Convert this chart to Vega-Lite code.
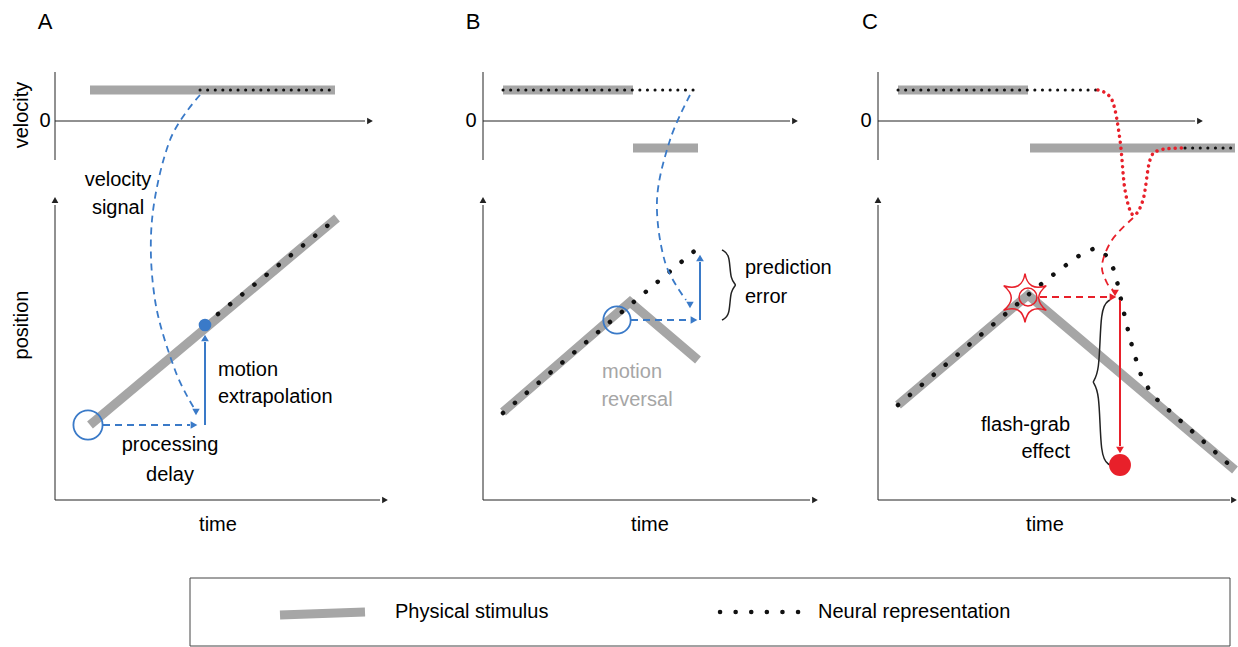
{
  "$schema": "https://vega.github.io/schema/vega-lite/v6.json",
  "width": 1238,
  "height": 647,
  "autosize": {"type": "none"},
  "padding": 0,
  "background": "white",
  "config": {"view": {"stroke": null}, "text": {"font": "Liberation Sans", "fontSize": 20}},
  "encoding": {
    "x": {"field": "x", "type": "quantitative", "scale": {"domain": [0, 1238], "nice": false, "zero": false}, "axis": null},
    "y": {"field": "y", "type": "quantitative", "scale": {"domain": [0, 647], "nice": false, "zero": false, "reverse": true}, "axis": null}
  },
  "layer": [
    {
      "data": {"values": [
        {"g": "legbox", "x": 190, "y": 578, "x2": 1230, "y2": 646}
      ]},
      "mark": {"type": "rect", "fill": null, "stroke": "#444", "strokeWidth": 1},
      "encoding": {"x2": {"field": "x2"}, "y2": {"field": "y2"}}
    },
    {
      "data": {"values": [
        {"g": "A1", "x": 90, "y": 90}, {"g": "A1", "x": 335, "y": 90},
        {"g": "B1", "x": 503, "y": 90}, {"g": "B1", "x": 633, "y": 90},
        {"g": "B2", "x": 633, "y": 148}, {"g": "B2", "x": 698, "y": 148},
        {"g": "C1", "x": 898, "y": 90}, {"g": "C1", "x": 1028, "y": 90},
        {"g": "C2", "x": 1030, "y": 148}, {"g": "C2", "x": 1235, "y": 148},
        {"g": "Ap", "x": 90, "y": 425}, {"g": "Ap", "x": 337, "y": 218},
        {"g": "Bp", "x": 503, "y": 412}, {"g": "Bp", "x": 630, "y": 302}, {"g": "Bp", "x": 698, "y": 360},
        {"g": "Cp", "x": 898, "y": 405}, {"g": "Cp", "x": 1028, "y": 295}, {"g": "Cp", "x": 1235, "y": 470},
        {"g": "L", "x": 280, "y": 615}, {"g": "L", "x": 365, "y": 612}
      ]},
      "mark": {"type": "line", "color": "#a6a6a6", "strokeWidth": 9, "strokeCap": "butt"},
      "encoding": {"detail": {"field": "g"}, "order": {"value": null}}
    },
    {
      "data": {"values": [
        {"g": "a", "x": 55, "y": 72}, {"g": "a", "x": 55, "y": 160},
        {"g": "b", "x": 55, "y": 121}, {"g": "b", "x": 365, "y": 121},
        {"g": "c", "x": 55, "y": 205}, {"g": "c", "x": 55, "y": 500}, {"g": "c", "x": 380, "y": 500},
        {"g": "d", "x": 483, "y": 72}, {"g": "d", "x": 483, "y": 160},
        {"g": "e", "x": 483, "y": 121}, {"g": "e", "x": 790, "y": 121},
        {"g": "f", "x": 483, "y": 205}, {"g": "f", "x": 483, "y": 500}, {"g": "f", "x": 810, "y": 500},
        {"g": "h", "x": 878, "y": 72}, {"g": "h", "x": 878, "y": 160},
        {"g": "i", "x": 878, "y": 121}, {"g": "i", "x": 1195, "y": 121},
        {"g": "j", "x": 878, "y": 205}, {"g": "j", "x": 878, "y": 500}, {"g": "j", "x": 1230, "y": 500}
      ]},
      "mark": {"type": "line", "color": "#222", "strokeWidth": 1},
      "encoding": {"detail": {"field": "g"}, "order": {"value": null}}
    },
    {
      "data": {"values": [
        {"g": "a", "x": 200, "y": 90}, {"g": "a", "x": 335, "y": 90},
        {"g": "b", "x": 503, "y": 90}, {"g": "b", "x": 698, "y": 90},
        {"g": "c", "x": 898, "y": 90}, {"g": "c", "x": 1098, "y": 90},
        {"g": "d", "x": 1185, "y": 148}, {"g": "d", "x": 1235, "y": 148}
      ]},
      "mark": {"type": "line", "color": "#111", "strokeWidth": 3, "strokeCap": "round", "strokeDash": [0.1, 7.5]},
      "encoding": {"detail": {"field": "g"}, "order": {"value": null}}
    },
    {
      "data": {"values": [
        {"g": "a", "x": 218, "y": 314}, {"g": "a", "x": 337, "y": 218},
        {"g": "b", "x": 503, "y": 413}, {"g": "b", "x": 617, "y": 316}, {"g": "b", "x": 698, "y": 248},
        {"g": "c", "x": 898, "y": 405}, {"g": "c", "x": 1028, "y": 295}, {"g": "c", "x": 1045, "y": 281},
        {"g": "c", "x": 1062, "y": 268}, {"g": "c", "x": 1080, "y": 255}, {"g": "c", "x": 1095, "y": 248},
        {"g": "c", "x": 1107, "y": 256}, {"g": "c", "x": 1115, "y": 272}, {"g": "c", "x": 1120, "y": 295},
        {"g": "c", "x": 1126, "y": 322}, {"g": "c", "x": 1133, "y": 350}, {"g": "c", "x": 1141, "y": 375},
        {"g": "c", "x": 1152, "y": 395}, {"g": "c", "x": 1235, "y": 470},
        {"g": "L", "x": 720, "y": 612}, {"g": "L", "x": 800, "y": 612}
      ]},
      "mark": {"type": "line", "color": "#111", "strokeWidth": 4.5, "strokeCap": "round", "strokeDash": [0.1, 15.5]},
      "encoding": {"detail": {"field": "g"}, "order": {"value": null}}
    },
    {
      "data": {"values": [
        {"x": 1098, "y": 90}, {"x": 1112, "y": 100}, {"x": 1120, "y": 140}, {"x": 1125, "y": 190},
        {"x": 1133, "y": 215}, {"x": 1143, "y": 200}, {"x": 1150, "y": 160}, {"x": 1160, "y": 150}, {"x": 1185, "y": 148}
      ]},
      "mark": {"type": "line", "color": "#e8202a", "strokeWidth": 3.5, "strokeCap": "round", "strokeDash": [0.1, 6], "interpolate": "cardinal"},
      "encoding": {"order": {"value": null}}
    },
    {
      "data": {"values": [
        {"g": "a", "x": 200, "y": 95}, {"g": "a", "x": 170, "y": 140}, {"g": "a", "x": 152, "y": 220},
        {"g": "a", "x": 155, "y": 300}, {"g": "a", "x": 175, "y": 370}, {"g": "a", "x": 194, "y": 408},
        {"g": "b", "x": 103, "y": 425}, {"g": "b", "x": 190, "y": 425},
        {"g": "c", "x": 690, "y": 95}, {"g": "c", "x": 670, "y": 140}, {"g": "c", "x": 657, "y": 200},
        {"g": "c", "x": 665, "y": 262}, {"g": "c", "x": 686, "y": 300},
        {"g": "d", "x": 631, "y": 320}, {"g": "d", "x": 688, "y": 320}
      ]},
      "mark": {"type": "line", "color": "#3a7ac8", "strokeWidth": 1.8, "strokeDash": [7, 5], "interpolate": "cardinal"},
      "encoding": {"detail": {"field": "g"}, "order": {"value": null}}
    },
    {
      "data": {"values": [
        {"g": "a", "x": 1040, "y": 297}, {"g": "a", "x": 1108, "y": 297},
        {"g": "b", "x": 1133, "y": 218}, {"g": "b", "x": 1112, "y": 240}, {"g": "b", "x": 1102, "y": 265},
        {"g": "b", "x": 1107, "y": 283}, {"g": "b", "x": 1113, "y": 290}
      ]},
      "mark": {"type": "line", "color": "#e8202a", "strokeWidth": 1.8, "strokeDash": [7, 5], "interpolate": "cardinal"},
      "encoding": {"detail": {"field": "g"}, "order": {"value": null}}
    },
    {
      "data": {"values": [
        {"g": "a", "x": 205, "y": 425}, {"g": "a", "x": 205, "y": 342},
        {"g": "b", "x": 700, "y": 320}, {"g": "b", "x": 700, "y": 262}
      ]},
      "mark": {"type": "line", "color": "#3a7ac8", "strokeWidth": 2},
      "encoding": {"detail": {"field": "g"}, "order": {"value": null}}
    },
    {
      "data": {"values": [
        {"g": "a", "x": 1120, "y": 300}, {"g": "a", "x": 1120, "y": 446}
      ]},
      "mark": {"type": "line", "color": "#e8202a", "strokeWidth": 2},
      "encoding": {"detail": {"field": "g"}, "order": {"value": null}}
    },
    {
      "data": {"values": [
        {"g": "B", "x": 722, "y": 250}, {"g": "B", "x": 730, "y": 254}, {"g": "B", "x": 730, "y": 281},
        {"g": "B", "x": 738, "y": 285}, {"g": "B", "x": 730, "y": 289}, {"g": "B", "x": 730, "y": 316}, {"g": "B", "x": 722, "y": 320},
        {"g": "C", "x": 1110, "y": 300}, {"g": "C", "x": 1100, "y": 306}, {"g": "C", "x": 1100, "y": 377},
        {"g": "C", "x": 1090, "y": 382}, {"g": "C", "x": 1100, "y": 387}, {"g": "C", "x": 1100, "y": 459}, {"g": "C", "x": 1110, "y": 465}
      ]},
      "mark": {"type": "line", "color": "#222", "strokeWidth": 1.5, "interpolate": "basis"},
      "encoding": {"detail": {"field": "g"}, "order": {"value": null}}
    },
    {
      "data": {"values": [{"x": 370, "y": 121}, {"x": 385, "y": 500}, {"x": 795, "y": 121}, {"x": 815, "y": 500}, {"x": 1200, "y": 121}, {"x": 1234, "y": 500}]},
      "mark": {"type": "point", "shape": "triangle-right", "filled": true, "color": "#222", "size": 45, "opacity": 1}
    },
    {
      "data": {"values": [{"x": 55, "y": 200}, {"x": 483, "y": 200}, {"x": 878, "y": 200}]},
      "mark": {"type": "point", "shape": "triangle-up", "filled": true, "color": "#222", "size": 45, "opacity": 1}
    },
    {
      "data": {"values": [{"x": 194, "y": 425}, {"x": 694, "y": 320}]},
      "mark": {"type": "point", "shape": "triangle-right", "filled": true, "color": "#3a7ac8", "size": 60, "opacity": 1}
    },
    {
      "data": {"values": [{"x": 205, "y": 338}, {"x": 700, "y": 258}]},
      "mark": {"type": "point", "shape": "triangle-up", "filled": true, "color": "#3a7ac8", "size": 60, "opacity": 1}
    },
    {
      "data": {"values": [{"x": 196, "y": 412}, {"x": 690, "y": 305}]},
      "mark": {"type": "point", "shape": "triangle-down", "filled": true, "color": "#3a7ac8", "size": 55, "opacity": 1}
    },
    {
      "data": {"values": [{"x": 1113, "y": 297}]},
      "mark": {"type": "point", "shape": "triangle-right", "filled": true, "color": "#e8202a", "size": 60, "opacity": 1}
    },
    {
      "data": {"values": [{"x": 1120, "y": 450}, {"x": 1115, "y": 293}]},
      "mark": {"type": "point", "shape": "triangle-down", "filled": true, "color": "#e8202a", "size": 60, "opacity": 1}
    },
    {
      "data": {"values": [{"x": 88, "y": 425, "s": 850}, {"x": 617, "y": 320, "s": 750}]},
      "mark": {"type": "point", "shape": "circle", "filled": false, "color": "#3a7ac8", "strokeWidth": 1.8, "opacity": 1},
      "encoding": {"size": {"field": "s", "type": "quantitative", "scale": null}}
    },
    {
      "data": {"values": [{"x": 205, "y": 325}]},
      "mark": {"type": "point", "shape": "circle", "filled": true, "color": "#3a7ac8", "size": 160, "opacity": 1}
    },
    {
      "data": {"values": [{"x": 1120, "y": 465}]},
      "mark": {"type": "point", "shape": "circle", "filled": true, "color": "#e8202a", "size": 480, "opacity": 1}
    },
    {
      "data": {"values": [{"x": 1028, "y": 297}]},
      "mark": {"type": "point", "shape": "circle", "filled": false, "color": "#e8202a", "strokeWidth": 1.5, "size": 320, "opacity": 1}
    },
    {
      "data": {"values": [{"x": 1025, "y": 298}]},
      "mark": {"type": "point", "filled": false, "color": "#e8202a", "strokeWidth": 1.5, "size": 2400, "opacity": 1,
        "shape": "M0,-1 Q0.12,-0.25 0.87,-0.5 Q0.25,0 0.87,0.5 Q0.12,0.25 0,1 Q-0.12,0.25 -0.87,0.5 Q-0.25,0 -0.87,-0.5 Q-0.12,-0.25 0,-1 Z"}
    },
    {
      "data": {"values": [
        {"x": 45, "y": 22, "t": "A"}, {"x": 473, "y": 22, "t": "B"}, {"x": 870, "y": 22, "t": "C"}
      ]},
      "mark": {"type": "text", "fontSize": 22, "baseline": "middle", "align": "center"},
      "encoding": {"text": {"field": "t"}}
    },
    {
      "data": {"values": [
        {"x": 45, "y": 121, "t": "0"}, {"x": 471, "y": 121, "t": "0"}, {"x": 866, "y": 121, "t": "0"},
        {"x": 118, "y": 180, "t": "velocity"}, {"x": 118, "y": 208, "t": "signal"},
        {"x": 170, "y": 445, "t": "processing"}, {"x": 170, "y": 475, "t": "delay"},
        {"x": 218, "y": 525, "t": "time"}, {"x": 650, "y": 525, "t": "time"}, {"x": 1045, "y": 525, "t": "time"}
      ]},
      "mark": {"type": "text", "baseline": "middle", "align": "center"},
      "encoding": {"text": {"field": "t"}}
    },
    {
      "data": {"values": [
        {"x": 632, "y": 372, "t": "motion"}, {"x": 637, "y": 400, "t": "reversal"}
      ]},
      "mark": {"type": "text", "baseline": "middle", "align": "center", "color": "#a6a6a6"},
      "encoding": {"text": {"field": "t"}}
    },
    {
      "data": {"values": [
        {"x": 218, "y": 370, "t": "motion"}, {"x": 218, "y": 397, "t": "extrapolation"},
        {"x": 745, "y": 268, "t": "prediction"}, {"x": 745, "y": 297, "t": "error"},
        {"x": 395, "y": 612, "t": "Physical stimulus"}, {"x": 818, "y": 612, "t": "Neural representation"}
      ]},
      "mark": {"type": "text", "baseline": "middle", "align": "left"},
      "encoding": {"text": {"field": "t"}}
    },
    {
      "data": {"values": [
        {"x": 1070, "y": 425, "t": "flash-grab"}, {"x": 1070, "y": 452, "t": "effect"}
      ]},
      "mark": {"type": "text", "baseline": "middle", "align": "right"},
      "encoding": {"text": {"field": "t"}}
    },
    {
      "data": {"values": [
        {"x": 22, "y": 115, "t": "velocity"}, {"x": 22, "y": 325, "t": "position"}
      ]},
      "mark": {"type": "text", "baseline": "middle", "align": "center", "angle": 270},
      "encoding": {"text": {"field": "t"}}
    }
  ]
}
